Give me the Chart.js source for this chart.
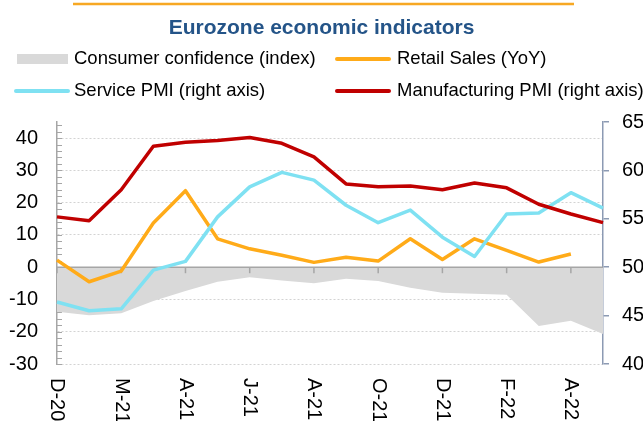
<!DOCTYPE html>
<html>
<head>
<meta charset="utf-8">
<script src="https://cdn.jsdelivr.net/npm/chart.js@4.4.0/dist/chart.umd.min.js"></script>
<style>
html, body { margin: 0; padding: 0; background: #fff; }
</style>
</head>
<body>
<canvas id="chart" width="643" height="421"></canvas>
<script>
var categories = ['Dec-20', 'Jan-21', 'Feb-21', 'Mar-21', 'Apr-21', 'May-21', 'Jun-21', 'Jul-21', 'Aug-21',
    'Sep-21', 'Oct-21', 'Nov-21', 'Dec-21', 'Jan-22', 'Feb-22', 'Mar-22', 'Apr-22', 'May-22'];
var xTickLabels = ['D-20', '', 'M-21', '', 'A-21', '', 'J-21', '', 'A-21', '', 'O-21', '', 'D-21', '', 'F-22', '', 'A-22', ''];

var consumerConfidence = [-13.8, -14.9, -14.3, -10.5, -7.4, -4.5, -3.1, -4.1, -5.0, -3.6, -4.3, -6.4, -7.9, -8.2, -8.5, -18.2, -16.6, -20.7];
var retailSales = [2.2, -4.5, -1.2, 13.7, 23.7, 8.8, 5.7, 3.7, 1.5, 3.1, 1.9, 8.8, 2.4, 8.8, 5.2, 1.6, 4.1, null];
var servicePMI = [46.4, 45.5, 45.7, 49.7, 50.6, 55.2, 58.3, 59.8, 59.0, 56.4, 54.6, 55.9, 53.1, 51.1, 55.5, 55.6, 57.7, 56.1];
var manufacturingPMI = [55.2, 54.8, 58.0, 62.5, 62.9, 63.1, 63.4, 62.8, 61.4, 58.6, 58.3, 58.4, 58.0, 58.7, 58.2, 56.5, 55.5, 54.6];

Chart.defaults.font.family = 'Liberation Sans, Arial, sans-serif';
Chart.defaults.color = '#000';

var axisGrey = '#a6a6a6';
var rightAxisColor = '#8c9ab3';

// title rule, legend, zero line and rotated month labels
var decorations = {
    id: 'decorations',
    beforeDatasetsDraw: function (chart) {
        var ctx = chart.ctx, y = chart.scales.y, area = chart.chartArea;
        ctx.save();
        ctx.strokeStyle = axisGrey;
        ctx.lineWidth = 1;
        y.ticks.forEach(function (t) {
            var py = Math.round(y.getPixelForValue(t.value)) + 0.5;
            ctx.beginPath();
            ctx.moveTo(area.left, py);
            ctx.lineTo(area.left + 5, py);
            ctx.stroke();
        });
        ctx.restore();
    },
    afterDatasetDraw: function (chart, args) {
        if (args.index !== 0) return;
        var ctx = chart.ctx, x = chart.scales.x, y = chart.scales.y, area = chart.chartArea;
        var y0 = y.getPixelForValue(0);
        ctx.save();
        ctx.strokeStyle = axisGrey;
        ctx.lineWidth = 1.5;
        ctx.beginPath();
        ctx.moveTo(area.left, y0);
        ctx.lineTo(area.right, y0);
        ctx.stroke();
        xTickLabels.forEach(function (lab, i) {
            if (!lab) return;
            var px = x.getPixelForValue(i);
            ctx.beginPath();
            ctx.moveTo(px, y0);
            ctx.lineTo(px, y0 + 6);
            ctx.stroke();
        });
        ctx.restore();
    },
    afterDraw: function (chart) {
        var ctx = chart.ctx, x = chart.scales.x, area = chart.chartArea;
        var ds = chart.data.datasets;
        ctx.save();

        // orange rule above the title
        ctx.strokeStyle = '#f7a823';
        ctx.lineWidth = 2.5;
        ctx.beginPath();
        ctx.moveTo(73, 4);
        ctx.lineTo(574, 4);
        ctx.stroke();

        // legend, two columns
        var slots = [
            { sx: 17, tx: 74, ty: 59 },
            { sx: 336, tx: 397, ty: 59 },
            { sx: 15, tx: 74, ty: 91 },
            { sx: 336, tx: 397, ty: 91 }
        ];
        ctx.font = '18.5px Liberation Sans, Arial, sans-serif';
        ctx.textBaseline = 'middle';
        ctx.textAlign = 'left';
        ds.forEach(function (d, i) {
            var s = slots[i];
            if (d.fill) {
                ctx.fillStyle = d.backgroundColor;
                ctx.fillRect(s.sx, s.ty - 5, 51, 10);
            } else {
                ctx.strokeStyle = d.borderColor;
                ctx.lineWidth = 4;
                ctx.lineCap = 'round';
                ctx.beginPath();
                ctx.moveTo(s.sx + 1, s.ty);
                ctx.lineTo(s.sx + 53, s.ty);
                ctx.stroke();
            }
            ctx.fillStyle = '#000';
            ctx.fillText(d.label, s.tx, s.ty);
        });

        // month labels, reading downwards
        ctx.font = '20px Liberation Sans, Arial, sans-serif';
        ctx.fillStyle = '#000';
        xTickLabels.forEach(function (lab, i) {
            if (!lab) return;
            ctx.save();
            ctx.translate(x.getPixelForValue(i), area.bottom + 14);
            ctx.rotate(Math.PI / 2);
            ctx.textAlign = 'left';
            ctx.textBaseline = 'middle';
            ctx.fillText(lab, 0, 0);
            ctx.restore();
        });
        ctx.restore();
    }
};

var chart = new Chart(document.getElementById('chart').getContext('2d'), {
    type: 'line',
    data: {
        labels: categories,
        datasets: [{
            label: 'Consumer confidence (index)',
            data: consumerConfidence,
            yAxisID: 'y',
            fill: 'origin',
            backgroundColor: '#d9d9d9',
            borderWidth: 0,
            order: 5
        }, {
            label: 'Retail Sales (YoY)',
            data: retailSales,
            yAxisID: 'y',
            borderColor: '#ffab19',
            order: 4
        }, {
            label: 'Service PMI (right axis)',
            data: servicePMI,
            yAxisID: 'y1',
            borderColor: '#7fe1f2',
            order: 3
        }, {
            label: 'Manufacturing PMI (right axis)',
            data: manufacturingPMI,
            yAxisID: 'y1',
            borderColor: '#c00000',
            order: 2
        }]
    },
    options: {
        responsive: false,
        animation: false,
        elements: {
            point: { radius: 0 },
            line: { borderWidth: 3.5, tension: 0, borderJoinStyle: 'round', fill: false }
        },
        plugins: {
            legend: { display: false },
            tooltip: { enabled: false },
            title: {
                display: true,
                text: 'Eurozone economic indicators',
                color: '#245488',
                font: { size: 21, weight: 'bold' },
                padding: { top: 15.4, bottom: 81.4 }
            }
        },
        scales: {
            x: {
                ticks: { display: false },
                grid: { display: false },
                border: { display: false },
                afterFit: function (s) { s.height = 57; }
            },
            y: {
                position: 'left',
                min: -30,
                max: 45,
                ticks: {
                    stepSize: 2,
                    autoSkip: false,
                    includeBounds: false,
                    padding: 19,
                    font: { size: 20 },
                    callback: function (v) { return v % 10 === 0 ? v : ''; }
                },
                grid: {
                    drawTicks: false,
                    lineWidth: 1,
                    color: function (c) {
                        return (c.tick && c.tick.value % 10 === 0 && c.tick.value !== 0) ? '#d3d3d3' : 'rgba(0,0,0,0)';
                    }
                },
                border: { color: axisGrey, width: 1.5, dash: [2, 2] },
                afterFit: function (s) { s.width = 57; }
            },
            y1: {
                position: 'right',
                min: 40,
                max: 65,
                ticks: { stepSize: 5, padding: 13, font: { size: 20 } },
                grid: { drawOnChartArea: false, drawTicks: true, tickLength: 6, color: rightAxisColor, lineWidth: 1.5 },
                border: { color: rightAxisColor, width: 1.5 },
                afterFit: function (s) { s.width = 40; }
            }
        }
    },
    plugins: [decorations]
});
</script>
</body>
</html>
